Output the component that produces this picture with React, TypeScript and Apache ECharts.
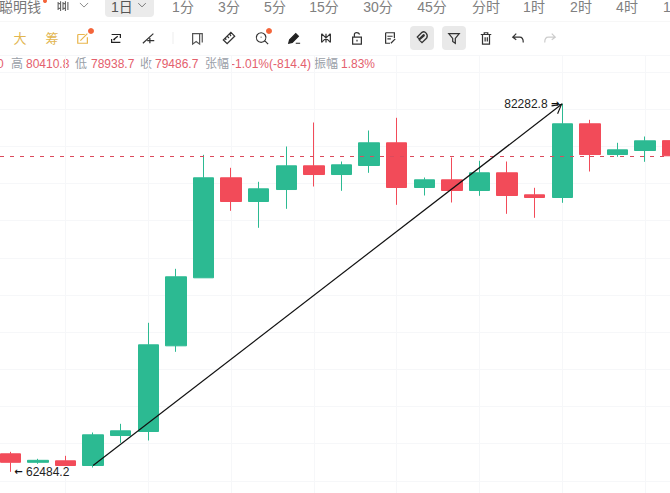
import React, { useEffect, useRef } from "react";
import * as echarts from "echarts";

const categories = ["1","2","3","4","5","6","7","8","9","10","11","12","13","14","15","16","17","18","19","20","21","22","23","24","25"];
const opens =  [63453,62996,63076,62824,64437,64653,69263,72922,78302,77027,77672,78947,78479,78964,80185,77780,78194,77619,78571,77387,77242,81207,79555,79771,80301.1];
const closes = [62996,63103,62824,64475,64690,69317,72976,78302,77027,77710,78947,78479,79001,80185,77780,78194,77619,78571,77350,77242,81207,79555,79808,80292,79486.7];
const lows =   [62484.2,62915,62800,62716,64045,64169,68940,72922,76526,75612,76634,77834,77602,78571,76849,77350,76973,77333,76365,76150,76957,78641,79432,79163,78938.7];
const highs =  [63560,63184,63345,64599,65067,70501,73406,79539,78840,78087,79986,81277,79179,80847,81530,78318,79394,79216,79179,77764,82282.8,81422,80185,80524,80410.8];

const lastClose = 79486.7;
const peakLabel = "{v|82282.8} {a|→}";
const troughLabel = "{a|←} {v|62484.2}";
const trendStart = { index: 3, price: 62824 };
const trendEnd = { index: 20, price: 82282.8 };

const periods: [string, number][] = [["1分",183],["3分",229],["5分",275],["15分",324],["30分",378],["45分",432],["分时",486],["1时",534],["2时",581],["4时",627],["1",667]];
const quote: [string, number, string][] = [
  ["0",-3,"r"],["高",11,"g"],["80410.8",26,"r"],["低",75,"g"],["78938.7",91,"r"],["收",140,"g"],["79486.7",155,"r"],
  ["张幅",205,"g"],["-1.01%(-814.4)",231,"r"],["振幅",314,"g"],["1.83%",341,"r"],
];

const GREEN = "#2cba92";
const RED = "#f24b59";
const FONT = "'Liberation Sans', 'Noto Sans CJK SC', sans-serif";

const icons: Record<string, string> = {
  candles: "M2 3V13 M5 2V14 M2 5H5V11H2Z M8 3V13 M11 2V14 M8 5H11V11H8Z M14 3V13",
  chevron: "M2 5L8 11L14 5",
  edit: "M2 4H10 M2 4V14H13V7 M5 11L13 3",
  sync: "M3 4H13V8 M13 13H3V9 M5 10L10 6 M5 10H7",
  ray: "M1 14L13 3 M6 11H14 M9 8V14",
  mark: "M3 3H11V15L7 12L3 15Z M11 3H14V13",
  ruler: "M2 10L10 2L14 6L6 14Z M6 6L8 8 M9 4L10 6 M4 8L5 10",
  zoom: "M7 2A5.5 5.5 0 1 0 7.01 2 M11 11L15 15 M7 6.5V7.5",
  pen: "M2 14L3 10L10 3L13 6L6 13Z M10 14H15",
  pattern: "M3 3V13 M8 3V13 M13 3V13 M3 3L13 13 M13 3L3 13",
  lock: "M3 7H13V15H3Z M5 7V4C5 1 10 1 11 4 M8 10V12",
  note: "M3 2H13V8 M3 2V14H8 M5 6H11 M5 9H9 M9 14L14 9",
  magnet: "M3 7L8 2C11 0 15 4 13 8L8 13L5 10L10 6C11 5 10 4 9 5L5 9Z",
  funnel: "M2 3H14L9.5 8.5V14L6.5 12V8.5Z",
  trash: "M2 4H14 M6 4V2H10V4 M4 4V15H12V4 M7 7V12 M9.5 7V12",
  back: "M6 3L2 7L6 10 M2 7H10C13 7 14 10 14 13",
  forward: "M10 3L14 7L10 10 M14 7H6C3 7 2 10 2 13",
};
Object.entries(icons).forEach(([name, d]) => {
  echarts.graphic.registerShape("ico_" + name, echarts.graphic.extendPath(d as any, {}) as any);
});

const icon = (name: string, cx: number, cy: number, stroke: string, size = 16, fill = "none") => ({
  type: "ico_" + name,
  silent: true,
  x: cx - size / 2,
  y: cy - size / 2,
  scaleX: size / 16,
  scaleY: size / 16,
  style: { stroke, fill, lineWidth: 1.4 },
  z: 10,
});

const toolbar: any[] = [
  { type: "rect", shape: { x: 0, y: 21.5, width: 670, height: 0.6 }, style: { fill: "#f0f0f0" } },
  { type: "rect", shape: { x: 105, y: -3, width: 49, height: 20, r: 4 }, style: { fill: "#ebebeb" } },
  { type: "rect", shape: { x: 410, y: 26, width: 24, height: 24, r: 4 }, style: { fill: "#e9e9e9" } },
  { type: "rect", shape: { x: 442, y: 26, width: 24, height: 24, r: 4 }, style: { fill: "#e9e9e9" } },
  { type: "rect", shape: { x: 172.5, y: 32, width: 1, height: 12 }, style: { fill: "#eeeeee" } },
  { type: "text", x: -1, y: 7, style: { text: "聪明钱", font: "14px " + FONT, fill: "#777", textVerticalAlign: "middle" } },
  { type: "circle", shape: { cx: 45, cy: 1, r: 2 }, style: { fill: "#f4653a" } },
  { type: "text", x: 111, y: 7, style: { text: "1日", font: "14px " + FONT, fill: "#555", textVerticalAlign: "middle" } },
  ...periods.map(([t, x]) => ({ type: "text", x, y: 7, style: { text: t, font: "14px " + FONT, fill: "#808080", textAlign: "center", textVerticalAlign: "middle" } })),
  { type: "text", x: 20, y: 38, style: { text: "大", font: "13px " + FONT, fill: "#e2b650", textAlign: "center", textVerticalAlign: "middle" } },
  { type: "text", x: 52, y: 38, style: { text: "筹", font: "13px " + FONT, fill: "#e2b650", textAlign: "center", textVerticalAlign: "middle" } },
  ...quote.map(([t, x, c]) => ({ type: "text", x, y: 64, style: { text: t, font: "12px " + FONT, fill: c === "r" ? "#e4606d" : "#9aa0a8", textVerticalAlign: "middle" } })),
  icon("candles", 63, 6, "#666", 13),
  icon("chevron", 84, 5, "#888", 11),
  icon("chevron", 142, 5, "#666", 10),
  icon("edit", 83, 38, "#e9b64e", 14),
  { type: "circle", shape: { cx: 91, cy: 31, r: 3 }, style: { fill: "#f4653a" }, z: 11 },
  icon("sync", 116, 38, "#222", 14),
  icon("ray", 149, 38, "#333", 14),
  icon("mark", 197, 38, "#555", 14),
  icon("ruler", 229, 38, "#333", 15),
  icon("zoom", 262, 38, "#333", 14),
  { type: "circle", shape: { cx: 269, cy: 31, r: 3 }, style: { fill: "#f4653a" }, z: 11 },
  icon("pen", 294, 38, "#222", 14, "#222"),
  icon("pattern", 326, 38, "#333", 14),
  icon("lock", 357, 38, "#333", 14),
  icon("note", 390, 38, "#333", 14),
  icon("magnet", 422, 38, "#333", 15),
  icon("funnel", 454, 38, "#333", 14),
  icon("trash", 486, 38, "#333", 14),
  icon("back", 518, 38, "#333", 14),
  icon("forward", 550, 38, "#ccc", 14),
];

const priceRich = {
  v: { color: "#222", fontSize: 12, fontFamily: FONT },
  a: { color: "#111", fontSize: 10, fontWeight: "bold", fontFamily: "'DejaVu Sans', sans-serif" },
};

export default function App() {
  const ref = useRef<HTMLDivElement>(null);
  useEffect(() => {
    document.body.style.margin = "0";
    document.body.style.overflow = "hidden";
    const chart = echarts.init(ref.current!, null, { renderer: "svg" });
    chart.setOption({
      animation: false,
      backgroundColor: "#ffffff",
      grid: { left: -3.5, top: 55, width: 690, height: 463, outerBoundsMode: "none", containLabel: false },
      xAxis: {
        type: "category",
        data: categories,
        axisLine: { show: false },
        axisTick: { show: false },
        axisLabel: { show: false },
        splitLine: {
          show: true,
          alignWithLabel: true,
          interval: (i: number) => i % 3 === 2,
          lineStyle: { color: "#f6f7f9", width: 1 },
        },
      },
      yAxis: {
        type: "value",
        min: 60000,
        max: 84909,
        interval: 2000,
        axisLine: { show: false },
        axisTick: { show: false },
        axisLabel: { show: false },
        splitLine: { show: true, lineStyle: { color: "#f6f7f9", width: 1 } },
      },
      graphic: { elements: toolbar },
      series: [
        {
          type: "candlestick",
          barWidth: 21,
          clip: false,
          data: categories.map((_, i) => [opens[i], closes[i], lows[i], highs[i]]),
          itemStyle: { color: GREEN, color0: RED, borderColor: GREEN, borderColor0: RED, borderWidth: 1 },
          markLine: {
            silent: true,
            animation: false,
            symbol: "none",
            label: { show: false },
            emphasis: { disabled: true },
            data: [
              [
                { xAxis: 0, yAxis: lastClose, x: 0, lineStyle: { color: "#dc4a5c", type: [4, 6], width: 1 } },
                { x: 670, yAxis: lastClose },
              ],
              [
                { coord: [trendStart.index, trendStart.price], symbol: "none", lineStyle: { color: "#111", type: "solid", width: 1.2 } },
                {
                  coord: [trendEnd.index, trendEnd.price],
                  symbol: "path://M0 0L5 9.5L4 10L0 2L-4 10L-5 9.5Z M0 -10L0.01 -10L0 -10Z",
                  symbolSize: [11, 20],
                },
              ],
            ],
          },
          markPoint: {
            silent: true,
            animation: false,
            symbol: "circle",
            symbolSize: 0,
            itemStyle: { color: "transparent" },
            data: [
              {
                coord: [trendEnd.index, trendEnd.price],
                label: { show: true, formatter: peakLabel, position: "left", distance: 3, rich: priceRich },
              },
              {
                coord: [0, lows[0]],
                label: { show: true, formatter: troughLabel, position: "right", distance: 4, rich: priceRich },
              },
            ],
          },
        },
      ],
    });
    return () => chart.dispose();
  }, []);
  return <div ref={ref} style={{ position: "absolute", left: 0, top: 0, width: 670, height: 493, overflow: "hidden" }} />;
}
